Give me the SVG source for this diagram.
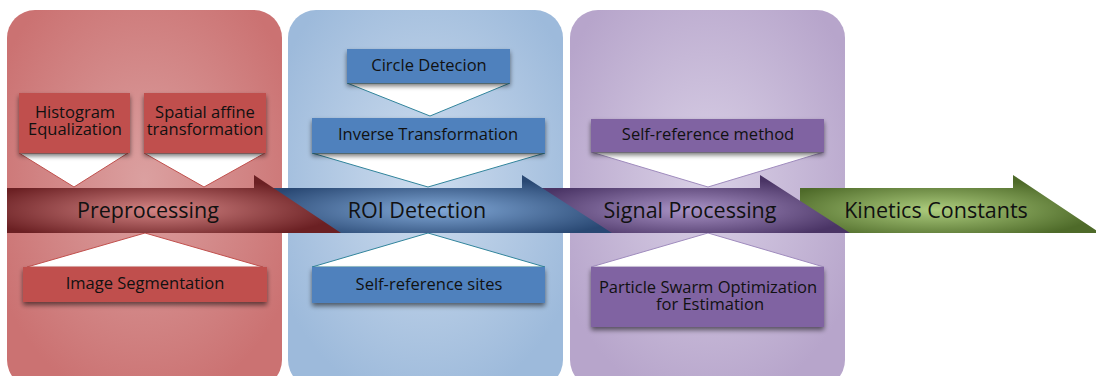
<svg xmlns="http://www.w3.org/2000/svg" width="1096" height="376" viewBox="0 0 1096 376">
<defs>
<radialGradient id="gPanelR" cx="0.5" cy="0.45" r="0.6"><stop offset="0" stop-color="#dba0a0"/><stop offset="1" stop-color="#cb7272"/></radialGradient>
<radialGradient id="gPanelB" cx="0.5" cy="0.45" r="0.6"><stop offset="0" stop-color="#cddcee"/><stop offset="1" stop-color="#9dbadb"/></radialGradient>
<radialGradient id="gPanelP" cx="0.5" cy="0.45" r="0.6"><stop offset="0" stop-color="#d9d0e6"/><stop offset="1" stop-color="#b7a5cb"/></radialGradient>
<radialGradient id="gArrR" cx="0.45" cy="0.6" r="0.55"><stop offset="0" stop-color="#d48585"/><stop offset="1" stop-color="#6b2023"/></radialGradient>
<radialGradient id="gArrB" cx="0.5" cy="0.6" r="0.55"><stop offset="0" stop-color="#82a9d8"/><stop offset="1" stop-color="#294873"/></radialGradient>
<radialGradient id="gArrP" cx="0.48" cy="0.6" r="0.55"><stop offset="0" stop-color="#a993c6"/><stop offset="1" stop-color="#4a3465"/></radialGradient>
<radialGradient id="gArrG" cx="0.45" cy="0.6" r="0.55"><stop offset="0" stop-color="#adcd7e"/><stop offset="1" stop-color="#4e6a29"/></radialGradient>
<filter id="sh" x="-10%" y="-20%" width="120%" height="160%">
<feGaussianBlur in="SourceAlpha" stdDeviation="2.5"/>
<feOffset dx="0" dy="3" result="o"/>
<feComponentTransfer><feFuncA type="linear" slope="0.55"/></feComponentTransfer>
<feMerge><feMergeNode/><feMergeNode in="SourceGraphic"/></feMerge>
</filter>
</defs>
<style>
text{font-family:"Open Sans","Noto Sans","DejaVu Sans",sans-serif;fill:#111111;text-anchor:middle}
.box{font-size:16.5px}
.big{font-size:21.5px}
.bR{fill:#c0504d}
.bB{fill:#4f81bd}
.bP{fill:#8064a2}
.tri{fill:#ffffff;stroke-width:1}
.tR{stroke:#c0504d}
.tB{stroke:#31849b}
.tP{stroke:#9f8bbd}
</style>

<g id="panels">
<rect id="panel-pre" x="7" y="10" width="275" height="378" rx="28" fill="url(#gPanelR)"/>
<rect id="panel-roi" x="288" y="10" width="275" height="378" rx="28" fill="url(#gPanelB)"/>
<rect id="panel-sig" x="570" y="10" width="275" height="378" rx="28" fill="url(#gPanelP)"/>
</g>

<g id="connectors">
<polygon class="tri tR" points="19,153 128,153 74,187"/>
<polygon class="tri tR" points="144,153 265,153 204,187"/>
<polygon class="tri tR" points="145,233 263,267 27,267"/>
<polygon class="tri tB" points="347,83 510,83 430,116"/>
<polygon class="tri tB" points="312,153 545,153 428,187"/>
<polygon class="tri tB" points="428,233 545,267 312,267"/>
<polygon class="tri tP" points="591,152 824,152 708,187"/>
<polygon class="tri tP" points="708,233 824,267 591,267"/>
</g>

<g id="arrow-kinetics">
<polygon points="800,188 1013,188 1013,175 1100,233 800,233" fill="url(#gArrG)"/>
<text class="big" x="936" y="218">Kinetics Constants</text>
</g>
<g id="arrow-signal">
<polygon points="540,188 760,188 760,175 850,233 540,233" fill="url(#gArrP)"/>
<text class="big" x="690" y="218">Signal Processing</text>
</g>
<g id="arrow-roi">
<polygon points="262,188 522,188 522,175 612,233 262,233" fill="url(#gArrB)"/>
<text class="big" x="417" y="218">ROI Detection</text>
</g>
<g id="arrow-pre">
<polygon points="7,188 254,188 254,175 341,233 7,233" fill="url(#gArrR)"/>
<text class="big" x="148" y="218">Preprocessing</text>
</g>

<g id="node-histogram">
<rect class="bR" x="19" y="93" width="111" height="60" filter="url(#sh)"/>
<text class="box" x="75" y="118">Histogram</text>
<text class="box" x="75" y="135">Equalization</text>
</g>
<g id="node-affine">
<rect class="bR" x="144" y="93" width="122" height="60" filter="url(#sh)"/>
<text class="box" x="205" y="118">Spatial affine</text>
<text class="box" x="205" y="135">transformation</text>
</g>
<g id="node-segmentation">
<rect class="bR" x="23" y="267" width="244" height="35" filter="url(#sh)"/>
<text class="box" x="145" y="289">Image Segmentation</text>
</g>
<g id="node-circle">
<rect class="bB" x="347" y="49" width="163" height="34" filter="url(#sh)"/>
<text class="box" x="429" y="71">Circle Detecion</text>
</g>
<g id="node-inverse">
<rect class="bB" x="312" y="118" width="233" height="35" filter="url(#sh)"/>
<text class="box" x="428" y="140">Inverse Transformation</text>
</g>
<g id="node-sites">
<rect class="bB" x="312" y="267" width="233" height="36" filter="url(#sh)"/>
<text class="box" x="429" y="290">Self-reference sites</text>
</g>
<g id="node-method">
<rect class="bP" x="591" y="119" width="233" height="33" filter="url(#sh)"/>
<text class="box" x="708" y="140">Self-reference method</text>
</g>
<g id="node-pso">
<rect class="bP" x="591" y="267" width="233" height="60" filter="url(#sh)"/>
<text class="box" x="708" y="293">Particle Swarm Optimization</text>
<text class="box" x="710" y="310">for Estimation</text>
</g>
</svg>
